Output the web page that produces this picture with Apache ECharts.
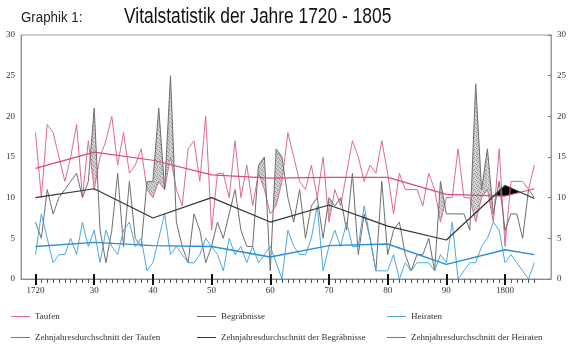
<!DOCTYPE html>
<html><head><meta charset="utf-8">
<script src="https://cdn.jsdelivr.net/npm/echarts@6/dist/echarts.min.js"></script>
<style>html,body{margin:0;padding:0;background:#fff}#c{width:576px;height:348px}</style>
</head><body><div id="c"></div>
<script>
// ---------- data ----------
const years = [1720,1721,1722,1723,1724,1725,1726,1727,1728,1729,
  1730,1731,1732,1733,1734,1735,1736,1737,1738,1739,
  1740,1741,1742,1743,1744,1745,1746,1747,1748,1749,
  1750,1751,1752,1753,1754,1755,1756,1757,1758,1759,
  1760,1761,1762,1763,1764,1765,1766,1767,1768,1769,
  1770,1771,1772,1773,1774,1775,1776,1777,1778,1779,
  1780,1781,1782,1783,1784,1785,1786,1787,1788,1789,
  1790,1791,1792,1793,1794,1795,1796,1797,1798,1799,
  1800,1801,1802,1803,1804,1805];
const taufen = [18,10,19,18,15,12,15,19,10,17,
  11,15,17,20,14,18,13,14,16,11,
  10,12,11,15,11,9,16,17,12,20,
  6,13,13,10,17,10,14,9,13,11,
  8,9,12,18,15,12,11,14,10,15,
  7,11,9,13,17,15,12,14,13,17,
  13,8,13,11,11,11,9,13,11,7,
  10,10,16,10,10,7,10,11,7,16,
  4,12,12,12,11,14];
const begraebnisse = [7,5,11,8,10,11,12,13,10,12,
  21,6,2,6,13,4,12,5,4,12,
  12,21,11,25,7,4,2,8,6,2,
  4,7,5,8,11,6,4,4,14,15,
  1,16,15,10,7,11,5,9,10,5,
  10,9,10,6,13,3,8,5,1,12,
  3,6,7,3,1,3,3,5,1,12,
  8,8,8,8,6,24,11,16,8,12,
  6,8,8,5,11,10];
const heiraten = [3,8,5,2,3,3,5,3,7,4,
  6,2,6,4,3,6,7,4,5,1,
  2,5,8,3,4,3,2,2,3,5,
  4,3,1,5,3,4,2,4,2,3,
  4,2,0,6,4,3,3,5,9,1,
  4,6,4,7,4,4,9,5,1,1,
  1,3,0,2,1,2,2,2,1,3,
  2,7,0,1,2,2,4,5,7,6,
  2,3,2,1,0,2];
const avgYears = [1720,1730,1740,1750,1760,1770,1780,1790,1800,1805];
const avgTaufen = [13.6,15.6,14.6,12.8,12.4,12.5,12.5,10.4,10.2,11.1];
const avgBegraebnisse = [10.0,11.1,7.5,10.0,7.0,9.1,6.5,4.8,11.5,9.9];
const avgHeiraten = [4.0,4.5,4.1,4.0,2.7,4.1,4.3,1.8,3.6,3.0];
const decadeTicks = [1720,1730,1740,1750,1760,1770,1780,1790,1800];
const decadeLabels = ['1720','30','40','50','60','70','80','90','1800'];
const seriesNames = ['Taufen','Begräbnisse','Heiraten',
  'Zehnjahresdurchschnitt der Taufen','Zehnjahresdurchschnitt der Begräbnisse','Zehnjahresdurchschnitt der Heiraten'];
const seriesColors = ['#de6a95','#6e6e6e','#4da8de','#d84a7e','#333333','#2a8fd2'];

// ---------- helpers ----------
const SERIF = '"Liberation Serif","DejaVu Serif",serif';
const X_MIN = 1717.53, X_MAX = 1807.83;
const pair = (xs, vs) => xs.map((x, i) => [x, vs[i]]);

const pc = document.createElement('canvas'); pc.width = 4; pc.height = 4;
const g = pc.getContext('2d');
g.fillStyle = '#d2d2d2'; g.fillRect(0, 0, 4, 4);
g.fillStyle = '#8e8e8e';
g.fillRect(0, 0, 1, 1); g.fillRect(2, 1, 1, 1); g.fillRect(1, 2, 1, 1); g.fillRect(3, 3, 1, 1);
const hatch = { image: pc, repeat: 'repeat' };

function shade(xs, lower, upper, fill) {
  return function (params, api) {
    const i = api.value(1);
    if (i >= xs.length - 1) return null;
    const x0 = xs[i], x1 = xs[i + 1];
    const t0 = lower[i], t1 = lower[i + 1], b0 = upper[i], b1 = upper[i + 1];
    const d0 = b0 - t0, d1 = b1 - t1;
    if (d0 <= 0 && d1 <= 0) return null;
    let pts;
    if (d0 > 0 && d1 > 0) pts = [[x0, t0], [x1, t1], [x1, b1], [x0, b0]];
    else {
      const f = d0 / (d0 - d1);
      const xc = x0 + f * (x1 - x0), yc = t0 + f * (t1 - t0);
      pts = d0 > 0 ? [[x0, t0], [xc, yc], [x0, b0]] : [[xc, yc], [x1, t1], [x1, b1]];
    }
    return { type: 'polygon', shape: { points: pts.map(p => api.coord(p)) }, style: { fill: fill } };
  };
}

const lineSeries = (k, xs, vs, w, z) => ({
  name: seriesNames[k], type: 'line', data: pair(xs, vs), color: seriesColors[k],
  itemStyle: { color: seriesColors[k] }, showSymbol: false, symbol: 'none',
  lineStyle: { color: seriesColors[k], width: w }, z, silent: true
});

const legendItem = (k, left, top) => ({
  data: [{ name: seriesNames[k], itemStyle: { color: seriesColors[k] } }], left, top, padding: 0,
  itemWidth: 19, itemHeight: 1, icon: 'rect', selectedMode: false,
  itemStyle: { color: seriesColors[k] },
  textStyle: { fontFamily: SERIF, fontSize: 9, color: '#333', padding: [0, 0, 6, 0] }
});

const chart = echarts.init(document.getElementById('c'), null, { renderer: 'canvas' });
chart.setOption({
  animation: false,
  backgroundColor: '#fff',
  grid: { left: 21, right: 25, top: 35, bottom: 69, show: true, borderColor: '#9a9a9a', borderWidth: 1, backgroundColor: 'transparent' },
  graphic: [
    { type: 'text', x: 21, y: 18, scaleX: 0.95, style: { text: 'Graphik 1:', font: '14px "Liberation Sans"', fill: '#222', verticalAlign: 'middle' } },
    { type: 'text', x: 124, y: 17, scaleX: 0.79, style: { text: 'Vitalstatistik der Jahre 1720 - 1805', font: '22px "Liberation Sans"', fill: '#111', verticalAlign: 'middle' } }
  ],
  legend: [
    legendItem(0, 11, 312),
    legendItem(3, 11, 333),
    legendItem(1, 197, 312),
    legendItem(4, 197, 333),
    legendItem(2, 387, 312),
    legendItem(5, 387, 333)
  ],
  xAxis: [
    { type: 'value', min: X_MIN, max: X_MAX, position: 'bottom',
      axisLine: { show: true, lineStyle: { color: '#8a8a8a', width: 1 } },
      axisTick: { show: true, customValues: years, length: 4, lineStyle: { color: '#555', width: 1 } },
      axisLabel: { show: false }, splitLine: { show: false } },
    { type: 'value', min: X_MIN, max: X_MAX, position: 'bottom',
      axisLine: { show: false },
      axisTick: { show: true, customValues: decadeTicks, length: 6, lineStyle: { color: '#111', width: 2 } },
      axisLabel: { show: true, customValues: decadeTicks, margin: 7, fontFamily: SERIF, fontSize: 9, color: '#333',
        formatter: v => decadeLabels[decadeTicks.indexOf(Math.round(v))] },
      splitLine: { show: false } },
    { type: 'value', min: X_MIN, max: X_MAX, position: 'bottom',
      axisLine: { show: false },
      axisTick: { show: true, inside: true, customValues: decadeTicks, length: 5, lineStyle: { color: '#111', width: 2 } },
      axisLabel: { show: false }, splitLine: { show: false } }
  ],
  yAxis: [
    { type: 'value', min: 0, max: 30, interval: 5, position: 'left',
      axisLine: { show: true, lineStyle: { color: '#9a9a9a' } }, axisTick: { show: false },
      axisLabel: { fontFamily: SERIF, fontSize: 9, color: '#333', margin: 6 }, splitLine: { show: false } },
    { type: 'value', min: 0, max: 30, interval: 5, position: 'right',
      axisLine: { show: true, lineStyle: { color: '#9a9a9a' } },
      axisTick: { show: true, inside: true, length: 3, lineStyle: { color: '#777' } },
      axisLabel: { fontFamily: SERIF, fontSize: 9, color: '#333', margin: 6 }, splitLine: { show: false } }
  ],
  series: [
    { name: 'shadeYear', type: 'custom', z: 1, silent: true,
      data: years.slice(0, -1).map((y, i) => [y, i]),
      renderItem: shade(years, taufen, begraebnisse, hatch) },
    { name: 'shadeAvg', type: 'custom', z: 1, silent: true,
      data: avgYears.slice(0, -1).map((y, i) => [y, i]),
      renderItem: shade(avgYears, avgTaufen, avgBegraebnisse, '#000') },
    lineSeries(0, years, taufen, 1, 3),
    lineSeries(1, years, begraebnisse, 1, 3),
    lineSeries(2, years, heiraten, 1, 3),
    lineSeries(3, avgYears, avgTaufen, 1.2, 4),
    lineSeries(4, avgYears, avgBegraebnisse, 1.2, 4),
    lineSeries(5, avgYears, avgHeiraten, 1.4, 4)
  ]
});
</script></body></html>
